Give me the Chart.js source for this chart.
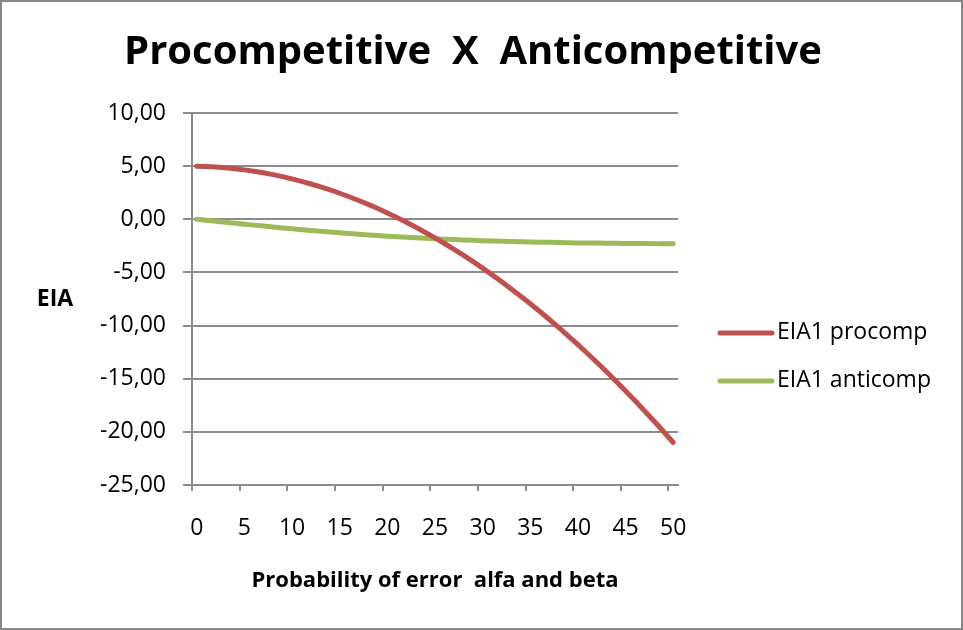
<!DOCTYPE html>
<html>
<head>
<meta charset="utf-8">
<script src="https://cdn.jsdelivr.net/npm/chart.js@4"></script>
<style>
    html, body { margin: 0; padding: 0; background: #fff; }
    #wrap { width: 963px; height: 630px; position: relative; }
</style>
</head>
<body>
<div id="wrap"><canvas id="chart" width="963" height="630"></canvas></div>
<script>
const chartTitle = "Procompetitive  X  Anticompetitive";
const xTitle = "Probability of error  alfa and beta";
const yTitle = "EIA";

const xLabels = ["0", "1", "2", "3", "4", "5", "6", "7", "8", "9",
    "10", "11", "12", "13", "14", "15", "16", "17", "18", "19",
    "20", "21", "22", "23", "24", "25", "26", "27", "28", "29",
    "30", "31", "32", "33", "34", "35", "36", "37", "38", "39",
    "40", "41", "42", "43", "44", "45", "46", "47", "48", "49", "50"];

const seriesNames = ["EIA1 procomp", "EIA1 anticomp"];

const procomp = [5.00, 4.97, 4.92, 4.85, 4.76, 4.65, 4.52, 4.37, 4.20, 4.01,
    3.80, 3.57, 3.32, 3.05, 2.76, 2.45, 2.12, 1.77, 1.40, 1.01,
    0.60, 0.17, -0.28, -0.75, -1.24, -1.75, -2.28, -2.83, -3.40, -3.99,
    -4.60, -5.23, -5.88, -6.55, -7.24, -7.95, -8.68, -9.43, -10.20, -10.99,
    -11.80, -12.63, -13.48, -14.35, -15.24, -16.15, -17.08, -18.03, -19.00, -19.99, -21.00];

const anticomp = [0.00, -0.10, -0.19, -0.28, -0.37, -0.46, -0.55, -0.64, -0.73, -0.82,
    -0.90, -0.98, -1.06, -1.13, -1.20, -1.27, -1.34, -1.41, -1.47, -1.53,
    -1.59, -1.64, -1.69, -1.74, -1.79, -1.83, -1.87, -1.91, -1.95, -1.98,
    -2.01, -2.04, -2.07, -2.09, -2.11, -2.13, -2.15, -2.17, -2.19, -2.20,
    -2.22, -2.23, -2.24, -2.25, -2.26, -2.27, -2.28, -2.28, -2.29, -2.29, -2.30];

const yMin = -25;
const yMax = 10;
const yStep = 5;

const gridGray = "#8c8c8c";
const fontFamily = "'Open Sans', sans-serif";

// title, y title, legend and frame drawn by hand
const extras = {
    id: "extras",
    afterDraw(chart) {
        const ctx = chart.ctx;
        const area = chart.chartArea;
        ctx.save();
        ctx.fillStyle = "#000";
        ctx.textBaseline = "middle";

        ctx.font = "bold 40px " + fontFamily;
        ctx.textAlign = "center";
        ctx.fillText(chartTitle, 473, 53);

        ctx.font = "bold 23px " + fontFamily;
        ctx.fillText(yTitle, 55, (area.top + area.bottom) / 2);

        ctx.font = "23px " + fontFamily;
        ctx.textAlign = "left";
        chart.data.datasets.forEach((ds, i) => {
            const y = 333 + i * 48;
            ctx.strokeStyle = ds.borderColor;
            ctx.lineWidth = 5;
            ctx.lineCap = "round";
            ctx.beginPath();
            ctx.moveTo(720, y);
            ctx.lineTo(772, y);
            ctx.stroke();
            ctx.fillText(ds.label, 777, y - 1);
        });

        ctx.strokeStyle = "#888";
        ctx.lineWidth = 2;
        ctx.strokeRect(1, 1, chart.width - 2, chart.height - 2);
        ctx.restore();
    }
};

new Chart(document.getElementById("chart"), {
    type: "line",
    data: {
        labels: xLabels,
        datasets: [
            { label: seriesNames[0], data: procomp, borderColor: "#c0504d" },
            { label: seriesNames[1], data: anticomp, borderColor: "#9bbb59" }
        ]
    },
    options: {
        responsive: false,
        animation: false,
        devicePixelRatio: 1,
        layout: { padding: { top: 113, right: 285, left: 0, bottom: 0 } },
        elements: {
            line: { borderWidth: 5, tension: 0, borderCapStyle: "round" },
            point: { radius: 0, hoverRadius: 0 }
        },
        plugins: {
            legend: { display: false },
            title: { display: false },
            tooltip: { enabled: false }
        },
        scales: {
            x: {
                type: "category",
                offset: true,
                afterFit(scale) { scale.height = 145; },
                grid: {
                    offset: true,
                    drawOnChartArea: false,
                    tickLength: 6,
                    lineWidth: 2,
                    color: c => (c.index % 5 === 0 ? gridGray : "rgba(0,0,0,0)")
                },
                border: { color: gridGray, width: 2 },
                ticks: {
                    autoSkip: false,
                    maxRotation: 0,
                    padding: 24,
                    color: "#000",
                    font: { family: fontFamily, size: 23 },
                    callback: (v, i) => (i % 5 === 0 ? xLabels[i] : "")
                },
                title: {
                    display: true,
                    text: xTitle,
                    color: "#000",
                    font: { family: fontFamily, size: 22, weight: "bold" },
                    padding: { top: 0, bottom: 36 }
                }
            },
            y: {
                min: yMin,
                max: yMax,
                afterFit(scale) { scale.width = 192; },
                grid: { color: gridGray, lineWidth: 2, tickLength: 9 },
                border: { color: gridGray, width: 2 },
                ticks: {
                    stepSize: yStep,
                    padding: 17,
                    color: "#000",
                    font: { family: fontFamily, size: 23 },
                    callback: v => v.toFixed(2).replace(".", ",")
                }
            }
        }
    },
    plugins: [extras]
});
</script>
</body>
</html>
